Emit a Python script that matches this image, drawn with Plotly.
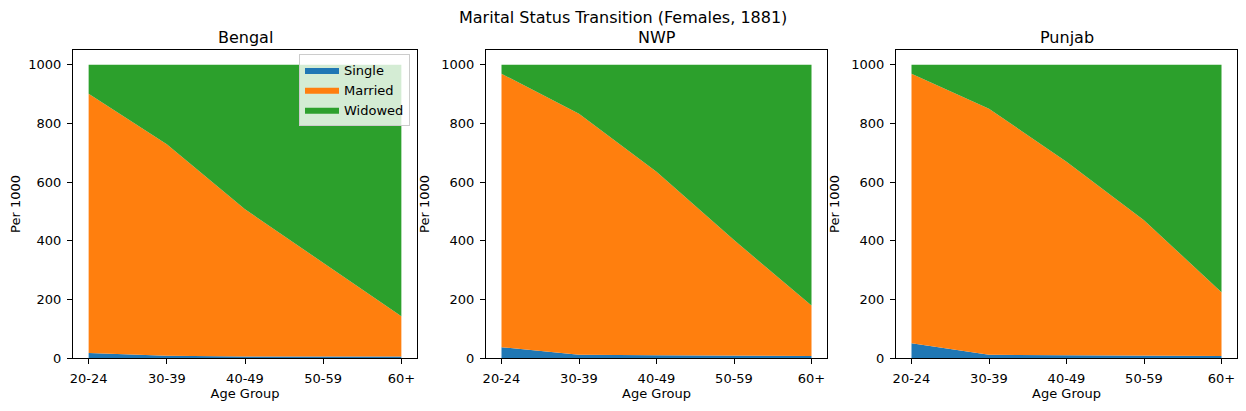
import plotly.graph_objects as go
from plotly.subplots import make_subplots

age_groups = ["20-24", "30-39", "40-49", "50-59", "60+"]
regions = ["Bengal", "NWP", "Punjab"]

# per 1000 females
single = {
    "Bengal": [17, 8, 5, 5, 5],
    "NWP": [37, 11, 9, 8, 7],
    "Punjab": [50, 11, 9, 8, 7],
}
married = {
    "Bengal": [884, 721, 502, 318, 137],
    "NWP": [932, 822, 626, 394, 172],
    "Punjab": [919, 839, 660, 462, 217],
}
widowed = {
    "Bengal": [99, 271, 493, 677, 858],
    "NWP": [31, 167, 365, 598, 821],
    "Punjab": [31, 150, 331, 530, 776],
}

colors = {"Single": "#1f77b4", "Married": "#ff7f0e", "Widowed": "#2ca02c"}

# the page body has an 8px margin, so the figure is drawn 8px in from the window edge
OFF = 8
W, H = 1246 - 2 * OFF, 411 - 2 * OFF


def px_x(p):
    return (p - OFF) / W


def px_y(p):
    return (H - (p - OFF)) / H


fig = make_subplots(rows=1, cols=3)

for i, reg in enumerate(regions):
    series = [("Single", single[reg]), ("Married", married[reg]), ("Widowed", widowed[reg])]
    for name, vals in series:
        fig.add_trace(
            go.Scatter(
                x=age_groups, y=vals, name=name,
                mode="lines", stackgroup="s%d" % i,
                line=dict(width=0, color=colors[name]),
                fillcolor=colors[name],
                showlegend=(i == 0),
                hoverinfo="skip",
            ),
            row=1, col=i + 1,
        )

# pixel layout of the three axes boxes in the reference window
boxes = [(73, 417), (486, 827), (896, 1237)]
top_px, bot_px = 50, 358
ydom = [px_y(bot_px), px_y(top_px)]

axis_font = dict(family="DejaVu Sans", size=13, color="black")
annotations = []
for i, (x0, x1) in enumerate(boxes):
    sfx = "" if i == 0 else str(i + 1)
    fig.layout["xaxis" + sfx].update(
        domain=[px_x(x0), px_x(x1)], range=[-0.2, 4.2], type="category",
        automargin=False,
        showgrid=False, zeroline=False, showline=True, mirror=True,
        linecolor="black", linewidth=1, ticks="outside", ticklen=5,
        tickcolor="black", tickfont=axis_font, ticklabelstandoff=3,
        title=dict(text="Age Group", font=axis_font, standoff=3),
    )
    fig.layout["yaxis" + sfx].update(
        domain=ydom, range=[0, 1050], tickvals=[0, 200, 400, 600, 800, 1000],
        automargin=False,
        showgrid=False, zeroline=False, showline=True, mirror=True,
        linecolor="black", linewidth=1, ticks="outside", ticklen=5,
        tickcolor="black", tickfont=axis_font, ticklabelstandoff=3,
        title=dict(text="Per 1000", font=axis_font, standoff=8),
    )
    annotations.append(dict(
        text=regions[i], x=px_x((x0 + x1) / 2), y=px_y(38),
        xref="paper", yref="paper", showarrow=False,
        xanchor="center", yanchor="middle",
        font=dict(family="DejaVu Sans", size=16, color="black"),
    ))

annotations.append(dict(
    text="Marital Status Transition (Females, 1881)", x=px_x(623), y=px_y(17),
    xref="paper", yref="paper", showarrow=False,
    xanchor="center", yanchor="middle",
    font=dict(family="DejaVu Sans", size=16, color="black"),
))

fig.update_layout(
    width=W, height=H,
    margin=dict(l=0, r=0, t=0, b=0),
    paper_bgcolor="white", plot_bgcolor="white",
    annotations=annotations,
    font=dict(family="DejaVu Sans", color="black"),
    legend=dict(
        x=px_x(410), y=px_y(54), xanchor="right", yanchor="top",
        bgcolor="rgba(255,255,255,0.8)", bordercolor="#cccccc", borderwidth=1,
        font=dict(family="DejaVu Sans", size=13, color="black"),
        traceorder="normal", itemwidth=34,
    ),
)

fig.write_html("out.html")
